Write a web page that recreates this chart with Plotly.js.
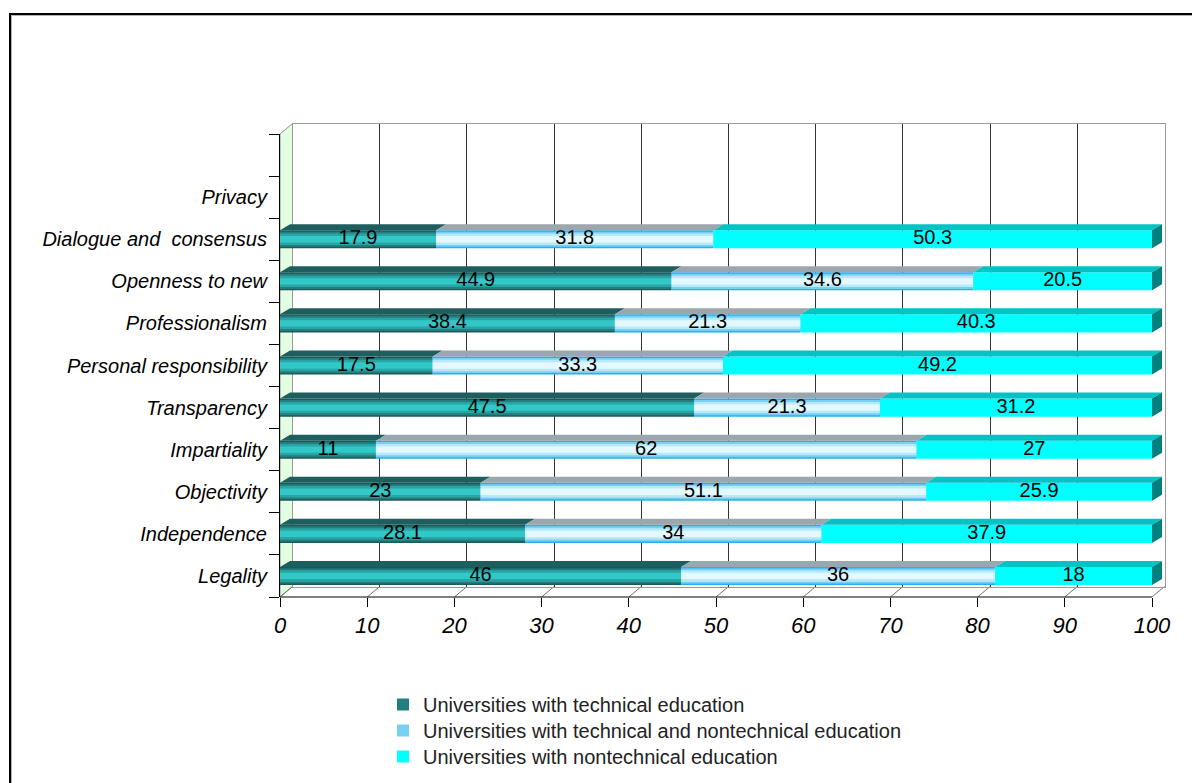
<!DOCTYPE html>
<html><head><meta charset="utf-8">
<script src="https://cdn.plot.ly/plotly-3.0.1.min.js"></script>
<style>
html,body{margin:0;padding:0;background:#fff;}
#chart{width:1192px;height:783px;position:absolute;left:0;top:0;}
#frame{position:absolute;left:9px;top:13px;width:1200px;height:800px;border-left:2px solid #000;border-top:2px solid #000;box-shadow:inset 1px 1px 0 #b4b4b4;pointer-events:none;}
</style></head><body>
<div id="chart"></div><div id="frame"></div>
<script>
// ---------- data ----------
const categories = ['Legality','Independence','Objectivity','Impartiality','Transparency',
  'Personal responsibility','Professionalism','Openness to new','Dialogue and\u00a0 consensus','Privacy'];
const seriesNames = ['Universities with technical education',
  'Universities with technical and nontechnical education',
  'Universities with nontechnical education'];
const technical    = [46, 28.1, 23, 11, 47.5, 17.5, 38.4, 44.9, 17.9, null];
const mixed        = [36, 34, 51.1, 62, 21.3, 33.3, 21.3, 34.6, 31.8, null];
const nontechnical = [18, 37.9, 25.9, 27, 31.2, 49.2, 40.3, 20.5, 50.3, null];

// ---------- geometry / style ----------
const W = 1192, H = 783;
const FX0 = 280, SX = 8.72, FYB = 597, FYT = 134;
const DX = 12.5, DY = 10.5;
const XMAX = 101.5;
const NSLOT = 11;
const SY = (FYB - FYT) / NSLOT;
const BAR_W = 0.43, FACE_DX = 10, FACE_DY = 6;
const FONT = 'Liberation Sans, Arial, sans-serif';
const fx = p => p / W, fy = p => 1 - p / H;

const series = [technical, mixed, nontechnical];
const layers = [
  [{w:0.43,c:'#1c5a5a'},{w:0.36,c:'#237f7f'},{w:0.27,c:'#2aa5a5'},{w:0.15,c:'#33c8c8'}],
  [{w:0.43,c:'#26b0ea'},{w:0.36,c:'#78d1f5'},{w:0.27,c:'#b6e9fc'},{w:0.15,c:'#e4f9ff'}],
  [{w:0.43,c:'#00ffff'}]
];
const legendLayer = [1, 1, 0];
const legendIds = ['legend', 'legend2', 'legend3'];
const legendTops = [685, 711, 737];
const topColors = ['#1e5e5e', '#9ba6ae', '#00c4c4'];
const endColor = '#008080';

const yIdx = categories.map((_, i) => i);
const bases = series.map((s, k) => s.map((v, i) => {
  if (v == null) return null;
  let b = 0; for (let j = 0; j < k; j++) b += series[j][i] || 0; return b;
}));

const traces = [];
traces.push({type:'scatter', x:[null], y:[null], xaxis:'x', yaxis:'y', showlegend:false, hoverinfo:'skip'});
series.forEach((s, k) => {
  layers[k].forEach((L, li) => {
    traces.push({
      type:'bar', orientation:'h', name: seriesNames[k],
      y: yIdx, x: s, base: bases[k], width: L.w,
      marker:{color:L.c, opacity:1, line:{width:0}},
      xaxis:'x2', yaxis:'y2', hoverinfo:'skip',
      showlegend: li === legendLayer[k], legend: legendIds[k]
    });
  });
});
// value labels
const lx = [], ly = [], lt = [];
series.forEach((s, k) => s.forEach((v, i) => {
  if (v == null) return;
  lx.push(bases[k][i] + v / 2); ly.push(i); lt.push(String(v));
}));
traces.push({type:'scatter', mode:'text', x:lx, y:ly, text:lt, textposition:'middle center',
  textfont:{family:FONT, size:20, color:'#000'}, xaxis:'x2', yaxis:'y2',
  showlegend:false, hoverinfo:'skip', cliponaxis:false});

// ---------- shapes ----------
const shapes = [];
shapes.push({type:'path', xref:'paper', yref:'paper', layer:'below',
  path:`M${fx(FX0)},${fy(FYB)} L${fx(FX0)},${fy(FYT)} L${fx(FX0+DX)},${fy(FYT-DY)} L${fx(FX0+DX)},${fy(FYB-DY)} Z`,
  fillcolor:'#e2ffe2', line:{color:'#909090', width:1}});
for (let v = 0; v <= 100; v += 10) {
  shapes.push({type:'line', xref:'paper', yref:'paper', layer:'below',
    x0:fx(FX0 + v*SX), y0:fy(FYB), x1:fx(FX0 + v*SX + DX), y1:fy(FYB - DY),
    line:{color:'#707070', width:1}});
}
shapes.push({type:'line', xref:'x2', yref:'paper', x0:0, x1:100, y0:fy(FYB), y1:fy(FYB),
  line:{color:'#000', width:1}, layer:'above'});
const dxu = FACE_DX / SX, dyu = FACE_DY / SY;
yIdx.forEach(i => {
  let total = null;
  series.forEach((s, k) => {
    const v = s[i]; if (v == null) return;
    const a = bases[k][i], b = a + v, yt = i + BAR_W / 2;
    total = b;
    shapes.push({type:'path', xref:'x2', yref:'y2', layer:'above',
      path:`M${a},${yt} L${b},${yt} L${b+dxu},${yt+dyu} L${a+dxu},${yt+dyu} Z`,
      fillcolor:topColors[k], line:{width:0}});
  });
  if (total != null) {
    const yb = i - BAR_W / 2, yt = i + BAR_W / 2;
    shapes.push({type:'path', xref:'x2', yref:'y2', layer:'above',
      path:`M${total},${yb} L${total+dxu},${yb+dyu} L${total+dxu},${yt+dyu} L${total},${yt} Z`,
      fillcolor:endColor, line:{width:0}});
  }
});

const layout = {
  width:W, height:H, margin:{l:0, r:0, t:0, b:0},
  paper_bgcolor:'#fff', plot_bgcolor:'rgba(0,0,0,0)',
  barmode:'overlay', font:{family:FONT, size:20, color:'#000'},
  xaxis:{domain:[fx(FX0+DX), fx(FX0+DX+100*SX)], range:[0,100], anchor:'y',
    tickmode:'array', tickvals:[10,20,30,40,50,60,70,80,90], showticklabels:false, ticks:'',
    showgrid:true, gridcolor:'#333', gridwidth:1, showline:true, mirror:true,
    linecolor:'#999', linewidth:1, zeroline:false, fixedrange:true},
  yaxis:{domain:[fy(FYB-DY), fy(FYT-DY)], range:[-0.5, 10.5], anchor:'x',
    showgrid:false, showticklabels:false, ticks:'', showline:true, mirror:true,
    linecolor:'#999', linewidth:1, zeroline:false, fixedrange:true},
  xaxis2:{domain:[fx(FX0), fx(FX0+XMAX*SX)], range:[0, XMAX], anchor:'y2',
    tickmode:'linear', tick0:0, dtick:10, ticks:'outside', ticklen:9, tickcolor:'#000',
    tickfont:{family:FONT, size:22, style:'italic', color:'#000'},
    showgrid:false, zeroline:false, showline:false, fixedrange:true},
  yaxis2:{domain:[fy(FYB), fy(FYT)], range:[-0.5, 10.5], anchor:'x2',
    tickmode:'array', tickvals:yIdx, ticktext:categories, ticks:'',
    tickfont:{family:FONT, size:20, style:'italic', color:'#000'}, ticklabelstandoff:8,
    showline:true, linecolor:'#000', linewidth:1,
    minor:{tickmode:'linear', tick0:-0.5, dtick:1, ticks:'outside', ticklen:10, tickcolor:'#000', showgrid:false},
    showgrid:false, zeroline:false, fixedrange:true},
  showlegend:true,
  shapes: shapes
};
legendIds.forEach((id, k) => {
  layout[id] = {x:fx(383), y:fy(legendTops[k]), xanchor:'left', yanchor:'top',
    font:{family:FONT, size:20, color:'#222'}, bgcolor:'rgba(0,0,0,0)'};
});

Plotly.newPlot('chart', traces, layout, {staticPlot:true, displayModeBar:false});
</script>
</body></html>
